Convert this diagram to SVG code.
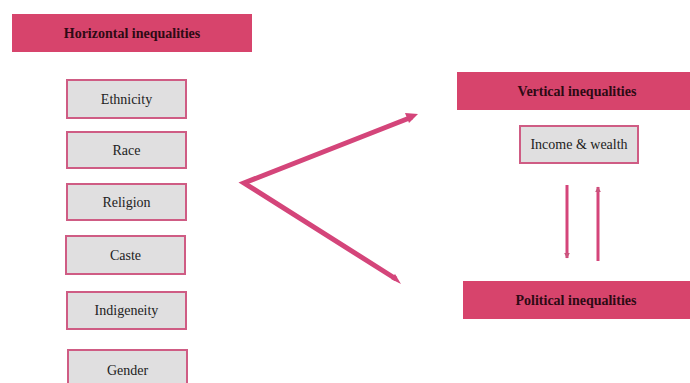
<svg xmlns="http://www.w3.org/2000/svg" width="690" height="383" viewBox="0 0 690 383">
<style>
.hdr{fill:#d7446c}
.hdrt{font-family:'Liberation Serif','Times New Roman','DejaVu Serif',serif;font-weight:bold;font-size:14px;fill:#2e0a14;text-anchor:middle}
.box{fill:#e0dfe0;stroke:#cf5c84;stroke-width:2}
.boxt{font-family:'Liberation Serif','Times New Roman','DejaVu Serif',serif;font-size:14px;fill:#222;text-anchor:middle}
.conn{stroke:#d4457a;fill:none}
</style>
<defs>
<marker id="ahs" viewBox="0 0 10 10" refX="9" refY="5" markerWidth="2" markerHeight="2" orient="auto" markerUnits="strokeWidth">
<path d="M0,0 L10,5 L0,10 z" fill="#c9557d"/>
</marker>
</defs>
<rect width="690" height="383" fill="#ffffff"/>
<g id="horizontal">
<rect class="hdr" x="12" y="14" width="240" height="38"/>
<text class="hdrt" x="132" y="38" font-family="Liberation Serif, serif">Horizontal inequalities</text>
</g>
<g id="ethnicity">
<rect class="box" x="67" y="80" width="119" height="38"/>
<text class="boxt" x="126.5" y="104" font-family="Liberation Serif, serif">Ethnicity</text>
</g>
<g id="race">
<rect class="box" x="67" y="132" width="119" height="36"/>
<text class="boxt" x="126.5" y="155" font-family="Liberation Serif, serif">Race</text>
</g>
<g id="religion">
<rect class="box" x="67" y="184" width="119" height="36"/>
<text class="boxt" x="126.5" y="207" font-family="Liberation Serif, serif">Religion</text>
</g>
<g id="caste">
<rect class="box" x="66" y="236" width="119" height="38"/>
<text class="boxt" x="125.5" y="260" font-family="Liberation Serif, serif">Caste</text>
</g>
<g id="indigeneity">
<rect class="box" x="67" y="292" width="119" height="37"/>
<text class="boxt" x="126.5" y="315" font-family="Liberation Serif, serif">Indigeneity</text>
</g>
<g id="gender">
<rect class="box" x="68" y="350" width="119" height="40"/>
<text class="boxt" x="127.5" y="375" font-family="Liberation Serif, serif">Gender</text>
</g>
<g id="vertical">
<rect class="hdr" x="457" y="72" width="233" height="38"/>
<text class="hdrt" x="577" y="96" font-family="Liberation Serif, serif">Vertical inequalities</text>
</g>
<g id="income">
<rect class="box" x="520" y="126" width="118" height="37"/>
<text class="boxt" x="579" y="149" font-family="Liberation Serif, serif">Income &amp; wealth</text>
</g>
<g id="political">
<rect class="hdr" x="463" y="281" width="227" height="38"/>
<text class="hdrt" x="576" y="305" font-family="Liberation Serif, serif">Political inequalities</text>
</g>
<g id="connectors">
<path class="conn" d="M412,117 L244,183 L396,279" stroke-width="5" stroke-linejoin="miter"/>
<path d="M405,113 L418,114 L409,123 z" fill="#d4457a"/>
<path d="M391,279 L401,284 L395,274 z" fill="#d4457a"/>
<line class="conn" x1="567" y1="185" x2="567" y2="258" stroke="#c9557d" stroke-width="3" marker-end="url(#ahs)"/>
<line class="conn" x1="598" y1="261" x2="598" y2="187" stroke="#c9557d" stroke-width="3" marker-end="url(#ahs)"/>
</g>
</svg>
